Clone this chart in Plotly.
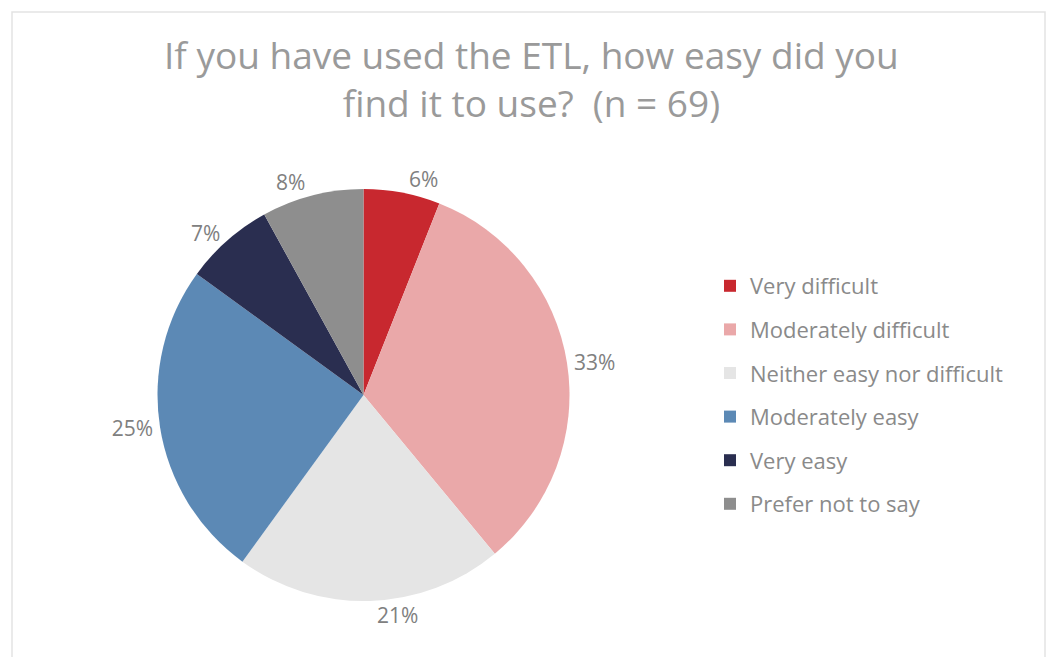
import plotly.graph_objects as go

categories = ["Very difficult", "Moderately difficult", "Neither easy nor difficult",
              "Moderately easy", "Very easy", "Prefer not to say"]
values = [6, 33, 21, 25, 7, 8]
colors = ["#C8282F", "#EAA8A9", "#E5E5E5", "#5C89B5", "#2A2E50", "#8E8E8E"]
title_text = "If you have used the ETL, how easy did you<br>find it to use?  (n = 69)"

W, H = 1049, 657
FONT = "Open Sans"

fig = go.Figure()
fig.add_trace(go.Pie(
    labels=categories, values=values, sort=False, direction="clockwise", rotation=0,
    marker=dict(colors=colors, line=dict(width=0)),
    texttemplate="%{value}%", textposition="outside",
    textfont=dict(family=FONT, size=21, color="#808080"),
    showlegend=False, hoverinfo="label+value",
    domain=dict(x=[157 / W, 570 / W], y=[1 - 601 / H, 1 - 189 / H]),
))

# legend entries (one per category, separate groups for spacing)
for cat, col in zip(categories, colors):
    fig.add_trace(go.Scatter(
        x=[None], y=[None], mode="markers", name=cat, legendgroup=cat,
        marker=dict(symbol="square", size=12, color=col),
        showlegend=True,
    ))

fig.update_layout(
    width=W, height=H,
    margin=dict(l=0, r=0, t=0, b=0),
    paper_bgcolor="white", plot_bgcolor="white",
    xaxis=dict(visible=False), yaxis=dict(visible=False),
    font=dict(family=FONT, color="#808080"),
    annotations=[dict(
        text=title_text, xref="paper", yref="paper", x=531 / W, xanchor="center",
        y=1 - 79 / H, yanchor="middle", showarrow=False,
        font=dict(family=FONT, size=37, color="#9a9a9a"),
    )],
    legend=dict(x=710 / W, xanchor="left", y=1 - 395 / H, yanchor="middle",
                font=dict(family=FONT, size=22, color="#8a8a8a"),
                tracegroupgap=12, itemsizing="constant", bgcolor="rgba(0,0,0,0)"),
    shapes=[dict(type="rect", xref="paper", yref="paper",
                 x0=12 / W, x1=1045 / W, y0=-0.2, y1=1 - 12 / H,
                 line=dict(color="#e3e3e3", width=1.5), fillcolor="rgba(0,0,0,0)", layer="below")],
)

fig.write_html("out.html")
